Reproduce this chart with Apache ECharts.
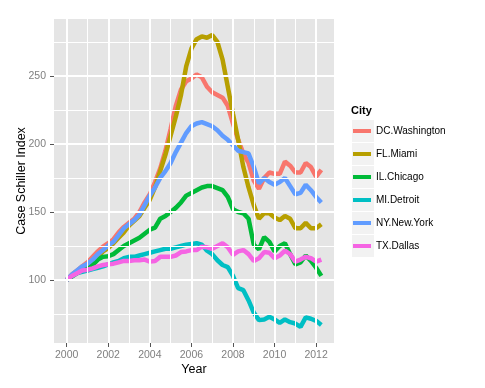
<!DOCTYPE html>
<html>
<head>
<meta charset="utf-8">
<script src="https://cdn.jsdelivr.net/npm/echarts@6/dist/echarts.min.js"></script>
<style>html,body{margin:0;padding:0;background:#fff}#c{width:485px;height:388px}</style>
</head>
<body>
<div id="c"></div>
<script>
var dates = [2000,2000.25,2000.5,2000.75,2001,2001.25,2001.5,2001.75,2002,2002.25,2002.5,2002.75,
2003,2003.25,2003.5,2003.75,2004,2004.25,2004.5,2004.75,2005,2005.25,2005.5,2005.75,
2006,2006.25,2006.5,2006.75,2007,2007.25,2007.5,2007.75,2008,2008.25,2008.5,2008.75,
2009,2009.25,2009.5,2009.75,2010,2010.25,2010.5,2010.75,2011,2011.25,2011.5,2011.75,2012,2012.25];

var cities = ["DC.Washington","FL.Miami","IL.Chicago","MI.Detroit","NY.New.York","TX.Dallas"];

var dcWashington = [100,104,107,110,113,117,121,124.5,127,130,135,139,
142,145,150,157,163,172,182,195,211,228,240,246,
248,251,249,242,238,236,234,228,215,203,193,186,
173,167,175,179,178,178,187,184,179,179,186,183,176,181];
var flMiami = [100,103,106,108,111,114,117,121,123.5,127,131,135,
140,143.5,147,153,159,168,180,192,206,220,236,257,
270,277,279,278,280,275,262,242,222,203,183,168,
155,145,149,149,146,144,147,145,138,138,142,138,138,141];
var ilChicago = [100,102.5,105,107,108.5,111,115,117,117.5,119,122,125,
127,129,131,134,137,138.5,145,147,150,153,157,162,
164,166,168,169,169,167.5,166,161,152,150,149,145,
126,122.5,131.5,128,121,125,127,119,111.5,113,118,114,109,103];
var miDetroit = [100,103,105,106,107,108,109,110,111.5,113,114,116,
117,117,118,119,120,121,122,123,123,124,125,126,
126.5,127,126,121.5,119,114.5,111,109.5,103,94,92.5,85,
76,70.5,71,73,71,68.5,71,69,68,65.5,72.5,71.5,70,67];
var nyNewYork = [100,104,107,110,112,115,119,122,125.5,128,133,138,
141,144,148,155,162,168,175,180,186,194,201,208,
213,215,216,214.5,213,210,206,203,199,195,194,193,
183,171,175,172,170,172,175,169,163,164,170,166,161,157];
var txDallas = [100,103,105,107,107.5,108.5,110,111,111.5,112,113,114,
114,114.5,114.5,115,113.5,114,117,117,117,118,120.5,121,
122,122,124.5,124,123,125,127,124,118.5,121,122,119,
114,116,120.5,120,116,118,121.5,119,113.5,115,117,116,113.5,115];

var xTicks = [2000,2002,2004,2006,2008,2010,2012];
var xMinor = [2001,2003,2005,2007,2009,2011];
var yTicks = [100,150,200,250];
var yMinor = [75,125,175,225,275];

var colors = ["#F8766D","#B79F00","#00BA38","#00BFC4","#619CFF","#F564E3"];
var values = [dcWashington, flMiami, ilChicago, miDetroit, nyNewYork, txDallas];

function pairs(v){ return dates.map(function(d,i){ return [d, v[i]]; }); }

var gridLines = [];
xTicks.forEach(function(v){ gridLines.push({xAxis: v, lineStyle:{width:2}}); });
xMinor.forEach(function(v){ gridLines.push({xAxis: v, lineStyle:{width:1}}); });
yTicks.forEach(function(v){ gridLines.push({yAxis: v, lineStyle:{width:2}}); });
yMinor.forEach(function(v){ gridLines.push({yAxis: v, lineStyle:{width:1}}); });

var series = [{
  type:'line', name:'grid', data:[], z:1, silent:true,
  markLine:{silent:true, symbol:['none','none'], label:{show:false}, animation:false,
    lineStyle:{color:'#ffffff', type:'solid', width:1}, emphasis:{disabled:true}, data: gridLines}
}];
cities.forEach(function(c,i){
  series.push({type:'line', name:c, data:pairs(values[i]), showSymbol:false, symbol:'none',
    z:3, lineStyle:{width:4.5, color:colors[i]}, itemStyle:{color:colors[i]}});
});

var FONT = 'Liberation Sans, Arial, sans-serif';
var chart = echarts.init(document.getElementById('c'), null, {renderer:'canvas'});
chart.setOption({
  animation:false,
  backgroundColor:'#ffffff',
  title:{text:'City', left:351, top:105, textStyle:{fontSize:11, fontWeight:'bold', color:'#000', fontFamily:FONT}, padding:0},
  graphic: cities.map(function(c,i){
    return {type:'rect', left:352, top:120+23*i, z:0, shape:{width:22, height:22}, style:{fill:'#F2F2F2'}};
  }),
  legend:{orient:'vertical', left:353, top:120, padding:0, itemGap:1, itemWidth:18, itemHeight:4,
    icon:'rect', data:cities, selectedMode:false,
    textStyle:{fontSize:10, color:'#000', fontFamily:FONT, lineHeight:22, height:22}},
  grid:{left:54, right:151, top:19, bottom:45, show:true, backgroundColor:'#E5E5E5', borderWidth:0},
  xAxis:{type:'value', min:1999.39, max:2012.86, name:'Year', nameLocation:'middle', nameGap:20, nameMoveOverlap:false,
    nameTextStyle:{fontSize:12.5, color:'#000', fontFamily:FONT},
    axisLine:{show:false}, splitLine:{show:false},
    axisTick:{show:true, length:4, lineStyle:{color:'#555'}, customValues:xTicks},
    axisLabel:{customValues:xTicks, margin:7, fontSize:10.5, color:'#7F7F7F', fontFamily:FONT,
      formatter:function(v){ return String(v); }}},
  yAxis:{type:'value', min:53.7, max:291.8, name:'Case Schiller Index', nameLocation:'middle', nameGap:26, nameRotate:90, nameMoveOverlap:false,
    nameTextStyle:{fontSize:12.5, color:'#000', fontFamily:FONT},
    axisLine:{show:false}, splitLine:{show:false},
    axisTick:{show:true, length:4, lineStyle:{color:'#555'}, customValues:yTicks},
    axisLabel:{customValues:yTicks, margin:8, fontSize:10.5, color:'#7F7F7F', fontFamily:FONT,
      formatter:function(v){ return String(v); }}},
  series: series
});
</script>
</body>
</html>
